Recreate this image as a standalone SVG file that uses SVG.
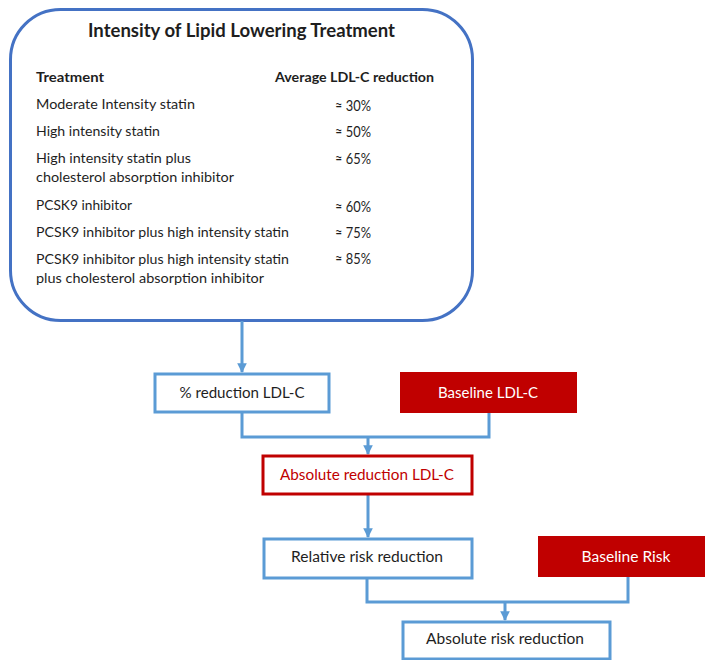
<svg xmlns="http://www.w3.org/2000/svg" width="705" height="660" viewBox="0 0 705 660">
  <defs>
    <marker id="arrow" viewBox="0 0 10 10" refX="9" refY="5" markerWidth="3.2" markerHeight="3.2" orient="auto" markerUnits="strokeWidth">
      <path d="M0,0 L10,5 L0,10 z" fill="#5B9BD5"/>
    </marker>
    <style>
      text { font-family: Lato, "Open Sans", "Liberation Sans", sans-serif; fill: #1e1e1e; }
      .title { font-size: 18px; font-weight: bold; }
      .hdr { font-size: 13.5px; font-weight: bold; }
      .row { font-size: 13.8px; }
      .pct { font-size: 14.5px; }
      .lbl { font-size: 14.8px; text-anchor: middle; }
      .blue { fill: #ffffff; stroke: #5B9BD5; stroke-width: 3; }
      .redline { fill: #ffffff; stroke: #C00000; stroke-width: 3; }
      .redfill { fill: #C00000; }
      .wire { fill: none; stroke: #5B9BD5; stroke-width: 3; }
    </style>
  </defs>
  <rect width="705" height="660" fill="#ffffff"/>

  <!-- treatment intensity table -->
  <g id="intensity-table">
    <rect x="10.5" y="9.5" width="462" height="311" rx="50" ry="50" fill="#ffffff" stroke="#4472C4" stroke-width="3"/>
    <text class="title" x="88" y="37" textLength="307" lengthAdjust="spacingAndGlyphs">Intensity of Lipid Lowering Treatment</text>
    <text class="hdr" x="36" y="82" textLength="68" lengthAdjust="spacingAndGlyphs">Treatment</text>
    <text class="hdr" x="275" y="82" textLength="159" lengthAdjust="spacingAndGlyphs">Average LDL-C reduction</text>
    <text class="row" x="36" y="109" textLength="159" lengthAdjust="spacingAndGlyphs">Moderate Intensity statin</text>
    <text class="row" x="36" y="136" textLength="124" lengthAdjust="spacingAndGlyphs">High intensity statin</text>
    <text class="row" x="36" y="163" textLength="155" lengthAdjust="spacingAndGlyphs">High intensity statin plus</text>
    <text class="row" x="36" y="182" textLength="198" lengthAdjust="spacingAndGlyphs">cholesterol absorption inhibitor</text>
    <text class="row" x="36" y="210" textLength="96" lengthAdjust="spacingAndGlyphs">PCSK9 inhibitor</text>
    <text class="row" x="36" y="237" textLength="253" lengthAdjust="spacingAndGlyphs">PCSK9 inhibitor plus high intensity statin</text>
    <text class="row" x="36" y="264" textLength="253" lengthAdjust="spacingAndGlyphs">PCSK9 inhibitor plus high intensity statin</text>
    <text class="row" x="36" y="283" textLength="228" lengthAdjust="spacingAndGlyphs">plus cholesterol absorption inhibitor</text>
    <text class="pct" x="335" y="111" textLength="36" lengthAdjust="spacingAndGlyphs">≈ 30%</text>
    <text class="pct" x="335" y="137" textLength="36" lengthAdjust="spacingAndGlyphs">≈ 50%</text>
    <text class="pct" x="335" y="164" textLength="36" lengthAdjust="spacingAndGlyphs">≈ 65%</text>
    <text class="pct" x="335" y="212" textLength="36" lengthAdjust="spacingAndGlyphs">≈ 60%</text>
    <text class="pct" x="335" y="238" textLength="36" lengthAdjust="spacingAndGlyphs">≈ 75%</text>
    <text class="pct" x="335" y="264" textLength="36" lengthAdjust="spacingAndGlyphs">≈ 85%</text>
  </g>

  <!-- connectors -->
  <g id="connectors">
    <path class="wire" d="M242,321 V372" marker-end="url(#arrow)"/>
    <path class="wire" d="M242,412 V437 H489 V413"/>
    <path class="wire" d="M368,437 V454" marker-end="url(#arrow)"/>
    <path class="wire" d="M368,495 V537" marker-end="url(#arrow)"/>
    <path class="wire" d="M367,578 V602 H628 V577"/>
    <path class="wire" d="M505,602 V620" marker-end="url(#arrow)"/>
  </g>

  <g id="pct-reduction">
    <rect class="blue" x="155" y="374" width="174" height="38"/>
    <text class="lbl" x="242" y="398" textLength="125" lengthAdjust="spacingAndGlyphs">% reduction LDL-C</text>
  </g>

  <g id="baseline-ldl">
    <rect class="redfill" x="400" y="372" width="177" height="41"/>
    <text class="lbl" x="488" y="398" style="fill:#ffffff" textLength="100" lengthAdjust="spacingAndGlyphs">Baseline LDL-C</text>
  </g>

  <g id="absolute-ldl">
    <rect class="redline" x="263" y="456" width="209" height="38"/>
    <text class="lbl" x="367" y="480" style="fill:#C00000" textLength="174" lengthAdjust="spacingAndGlyphs">Absolute reduction LDL-C</text>
  </g>

  <g id="relative-risk">
    <rect class="blue" x="264" y="539" width="208" height="39"/>
    <text class="lbl" x="367" y="562" textLength="152" lengthAdjust="spacingAndGlyphs">Relative risk reduction</text>
  </g>

  <g id="baseline-risk">
    <rect class="redfill" x="538" y="536" width="167" height="41"/>
    <text class="lbl" x="626" y="562" style="fill:#ffffff" textLength="89" lengthAdjust="spacingAndGlyphs">Baseline Risk</text>
  </g>

  <g id="absolute-risk">
    <rect class="blue" x="403" y="622" width="207" height="37"/>
    <text class="lbl" x="505" y="644" textLength="158" lengthAdjust="spacingAndGlyphs">Absolute risk reduction</text>
  </g>
</svg>
